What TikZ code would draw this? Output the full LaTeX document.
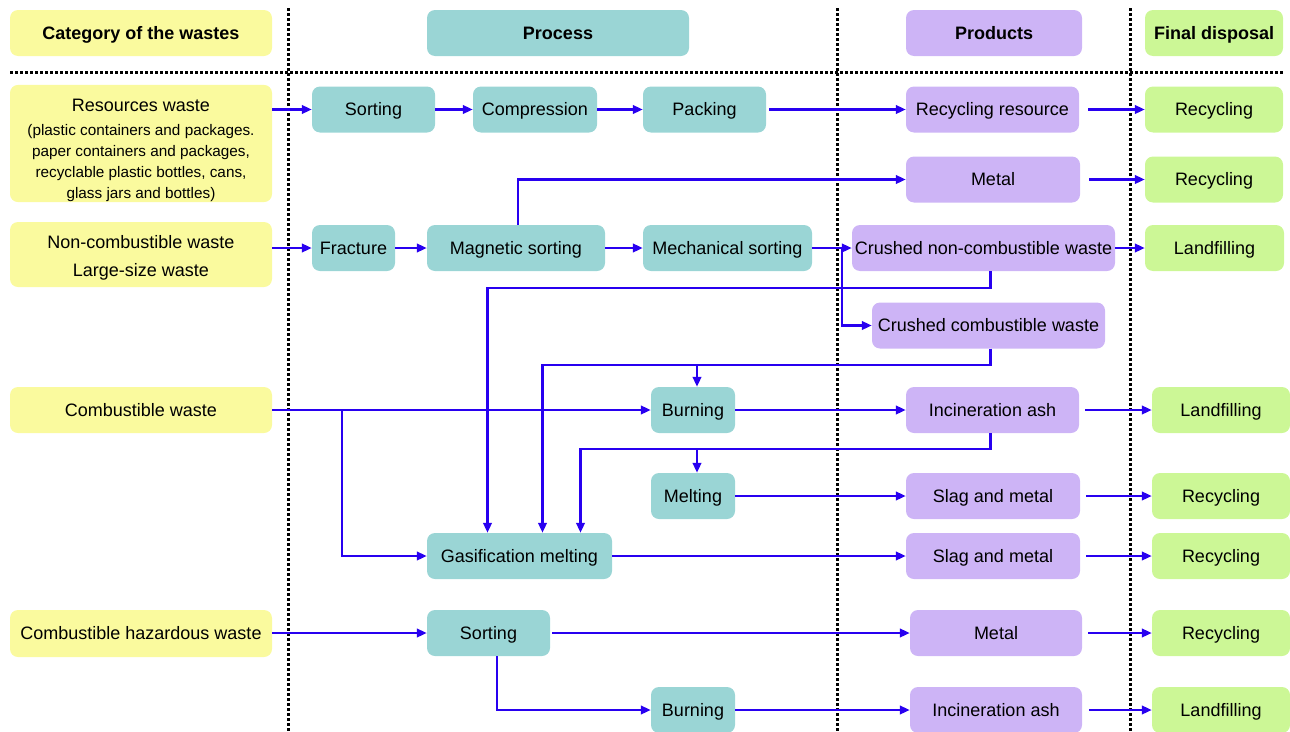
\documentclass[tikz,border=0pt]{standalone}
\usepackage{fontspec}
\setmainfont{Liberation Sans}
\usetikzlibrary{arrows.meta}
\definecolor{cyel}{RGB}{250,250,158}
\definecolor{cteal}{RGB}{154,213,213}
\definecolor{cpur}{RGB}{205,180,246}
\definecolor{cgrn}{RGB}{204,247,150}
\definecolor{cblue}{RGB}{40,0,240}
\newcommand{\fmain}{\fontsize{18}{21}\selectfont}
\newcommand{\fsmall}{\fontsize{15.3}{21}\selectfont}
\begin{document}
\begin{tikzpicture}[x=1pt,y=-1pt,
  bx/.style={rounded corners=8pt, inner sep=0pt, minimum height=46pt, font=\fmain, align=center, text=black},
  one/.style={bx, text height=14pt, text depth=2pt},
  yb/.style={one, fill=cyel},
  tb/.style={one, fill=cteal},
  pb/.style={one, fill=cpur},
  gb/.style={one, fill=cgrn},
  hd/.style={font=\fmain\bfseries},
  arr/.style={draw=cblue, line width=2.4pt, -{Triangle[length=10pt,width=8.5pt]}},
  sep/.style={draw=black, line width=3pt, dash pattern=on 3pt off 2pt}
]
\useasboundingbox (0,0) rectangle (1290,731);
% separators
\draw[sep] (288,8) -- (288,731);
\draw[sep] (837,8) -- (837,731);
\draw[sep] (1130,8) -- (1130,731);
\draw[sep] (10,72) -- (1283,72);
% headers
\node[yb,hd,minimum width=262pt] (h1) at (141,33) {Category of the wastes};
\node[tb,hd,minimum width=262pt] (h2) at (558,33) {Process};
\node[pb,hd,minimum width=176pt] (h3) at (994,33) {Products};
\node[gb,hd,minimum width=138pt] (h4) at (1214,33) {Final disposal};
% row 1
\node[bx,fill=cyel,minimum width=262pt,minimum height=113pt] (rw) at (141,143.5)
  {\rule{0pt}{27pt}Resources waste\\[3pt]\fsmall (plastic containers and packages.\\\fsmall paper containers and packages,\\\fsmall recyclable plastic bottles, cans,\\\fsmall glass jars and bottles)};
\node[tb,minimum width=123pt] (s1) at (373.5,109.5) {Sorting};
\node[tb,minimum width=124pt] (comp) at (535,109.5) {Compression};
\node[tb,minimum width=123pt] (pack) at (704.5,109.5) {Packing};
\node[pb,minimum width=173pt] (rr) at (992.5,109.5) {Recycling resource};
\node[gb,minimum width=138pt] (rc1) at (1214,109.5) {Recycling};
% row 2
\node[pb,minimum width=174pt] (met1) at (993,179.5) {Metal};
\node[gb,minimum width=138pt] (rc2) at (1214,179.5) {Recycling};
% row 3
\node[bx,fill=cyel,minimum width=262pt,minimum height=65pt] (ncw) at (141,254.5) {\rule{0pt}{19pt}Non-combustible waste\\[7pt]Large-size waste};
\node[tb,minimum width=83pt] (frac) at (353.5,248) {Fracture};
\node[tb,minimum width=178pt] (ms) at (516,248) {Magnetic sorting};
\node[tb,minimum width=169pt] (mech) at (727.5,248) {Mechanical sorting};
\node[pb,minimum width=263pt] (cnc) at (983.5,248) {Crushed non-combustible waste};
\node[gb,minimum width=139pt] (lf1) at (1214.5,248) {Landfilling};
\node[pb,minimum width=233pt] (cc) at (988.5,325.5) {Crushed combustible waste};
% combustible
\node[yb,minimum width=262pt] (cw) at (141,410) {Combustible waste};
\node[tb,minimum width=84pt] (burn1) at (693,410) {Burning};
\node[pb,minimum width=173pt] (ia1) at (992.5,410) {Incineration ash};
\node[gb,minimum width=138pt] (lf2) at (1221,410) {Landfilling};
\node[tb,minimum width=84pt] (melt) at (693,496) {Melting};
\node[pb,minimum width=174pt] (slag1) at (993,496) {Slag and metal};
\node[gb,minimum width=138pt] (rc3) at (1221,496) {Recycling};
\node[tb,minimum width=185pt] (gm) at (519.5,556) {Gasification melting};
\node[pb,minimum width=174pt] (slag2) at (993,556) {Slag and metal};
\node[gb,minimum width=138pt] (rc4) at (1221,556) {Recycling};
% hazardous
\node[yb,minimum width=262pt,minimum height=47pt] (chw) at (141,633.5) {Combustible hazardous waste};
\node[tb,minimum width=123pt] (sort2) at (488.5,633) {Sorting};
\node[pb,minimum width=172pt] (met2) at (996,633) {Metal};
\node[gb,minimum width=138pt] (rc5) at (1221,633) {Recycling};
\node[tb,minimum width=84pt] (burn2) at (693,710) {Burning};
\node[pb,minimum width=172pt] (ia2) at (996,710) {Incineration ash};
\node[gb,minimum width=138pt] (lf3) at (1221,710) {Landfilling};
% coordinates
\coordinate (b1) at (842,248);
\coordinate (b2) at (697,364);
\coordinate (b3) at (697,449);
\coordinate (b4) at (342,410);
% connectors row 1
\draw[arr] (rw.east |- s1.west) -- (s1.west);
\draw[arr] (s1) -- (comp);
\draw[arr] (comp) -- (pack);
\draw[arr,shorten <=3pt] (pack) -- (rr);
\draw[arr,shorten <=9pt] (rr) -- (rc1);
% metal
\draw[arr] ([xshift=2pt]ms.north) |- (met1.west);
\draw[arr,shorten <=9pt] (met1) -- (rc2);
% row 3
\draw[arr] (ncw.east |- frac.west) -- (frac.west);
\draw[arr] (frac) -- (ms);
\draw[arr] (ms) -- (mech);
\draw[arr] (mech) -- (cnc);
\draw[arr] (cnc) -- (lf1);
\draw[arr] (b1) |- (cc.west);
% to gasification
\draw[arr] ([xshift=7pt]cnc.south) -- ++(0,17) -| ([xshift=-32pt]gm.north);
\draw[arr] ([xshift=2pt]cc.south) -- ++(0,16) -| ([xshift=23pt]gm.north);
\draw[arr] (b2) -- (b2 |- burn1.north);
\draw[arr] ([xshift=-2pt]ia1.south) -- ++(0,16) -| ([xshift=61pt]gm.north);
\draw[arr] (b3) -- (b3 |- melt.north);
% combustible
\draw[arr] (cw) -- (burn1);
\draw[arr] (b4) |- (gm.west);
\draw[arr] (burn1) -- (ia1);
\draw[arr,shorten <=6pt] (ia1) -- (lf2);
\draw[arr] (melt) -- (slag1);
\draw[arr,shorten <=6pt] (slag1) -- (rc3);
\draw[arr] (gm) -- (slag2);
\draw[arr,shorten <=6pt] (slag2) -- (rc4);
% hazardous
\draw[arr] (chw.east |- sort2.west) -- (sort2.west);
\draw[arr,shorten <=2pt] (sort2) -- (met2);
\draw[arr,shorten <=6pt] (met2) -- (rc5);
\draw[arr] ([xshift=8.5pt]sort2.south) |- (burn2.west);
\draw[arr] (burn2) -- (ia2);
\draw[arr,shorten <=7pt] (ia2) -- (lf3);
\end{tikzpicture}
\end{document}
